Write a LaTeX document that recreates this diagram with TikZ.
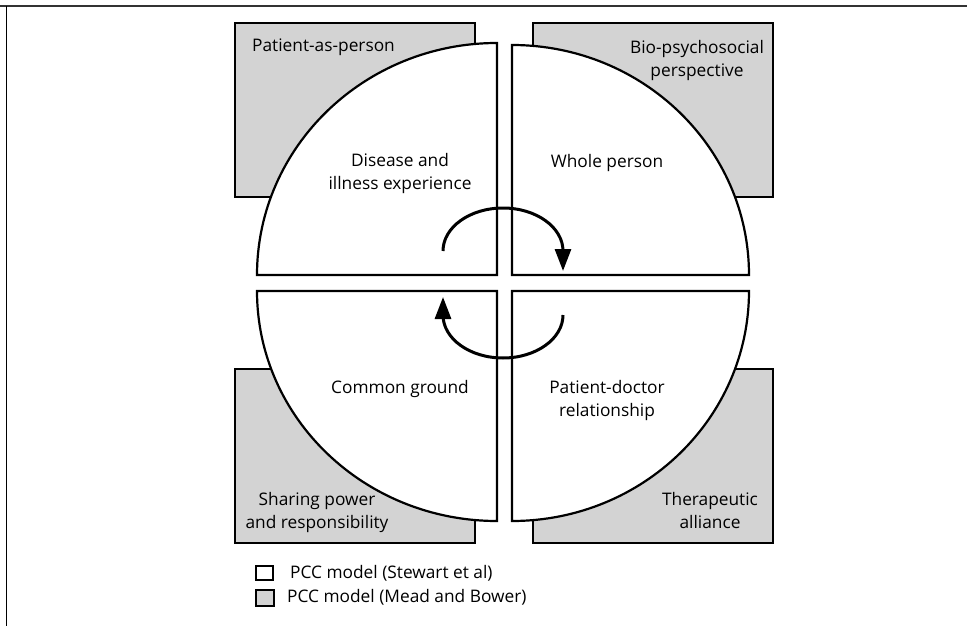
\documentclass[tikz,border=0pt]{standalone}
\usepackage{fontspec}
\setmainfont{Open Sans}
\usetikzlibrary{arrows.meta}
\definecolor{boxgray}{RGB}{211,211,211}
\begin{document}
\begin{tikzpicture}[x=1pt,y=-1pt,
  mbbox/.style={draw=black, line width=2.6pt, fill=boxgray},
  pccq/.style={draw=black, line width=2.2pt, fill=white, line join=miter},
  lbl/.style={font=\fontsize{17.3}{23}\selectfont, align=center, inner sep=0pt},
  legbox/.style={draw=black, line width=2pt},
  cyc/.style={line width=3pt, -{Triangle[length=22pt,width=16pt]}},
  frameline/.style={line width=1.6pt}]
\useasboundingbox (0,0) rectangle (967,626);
% frame
\draw[frameline, black!80] (0,6) -- (967,6);
\draw[frameline] (6.5,6) -- (6.5,626);
% Mead and Bower boxes
\draw[mbbox] (235,23) rectangle (475,197);
\draw[mbbox] (533,23) rectangle (773,197);
\draw[mbbox] (235,369) rectangle (475,543);
\draw[mbbox] (533,369) rectangle (773,543);
% Stewart quarters
\draw[pccq] (497,43) -- (497,275) -- (257,275)
  arc[start angle=180, end angle=270, x radius=240, y radius=232] -- cycle;
\draw[pccq] (749,275) -- (512,275) -- (512,45)
  arc[start angle=270, end angle=360, x radius=237, y radius=230] -- cycle;
\draw[pccq] (497,521) -- (497,291) -- (257,291)
  arc[start angle=180, end angle=90, x radius=240, y radius=230] -- cycle;
\draw[pccq] (749,291) -- (512,291) -- (512,521)
  arc[start angle=90, end angle=0, x radius=237, y radius=230] -- cycle;
% cycle arrows
\coordinate (ua) at (443,251);
\coordinate (ub) at (563,271);
\coordinate (la) at (563,315);
\coordinate (lb) at (443,297);
\draw[cyc] (ua) arc[start angle=180, end angle=360, x radius=60, y radius=43] -- (ub);
\draw[cyc] (la) arc[start angle=0, end angle=180, x radius=60, y radius=43] -- (lb);
% labels
\node[lbl, anchor=base west] (pap) at (252,52) {Patient-as-person};
\node[lbl] (bps) at (697,60.5) {Bio-psychosocial\\perspective};
\node[lbl] (die) at (400,173.3) {Disease and\\illness experience};
\node[lbl] (who) at (607,162.8) {Whole person};
\node[lbl] (cgr) at (400,389) {Common ground};
\node[lbl] (pdr) at (607,400.3) {Patient-doctor\\relationship};
\node[lbl] (spr) at (317,512.3) {Sharing power\\and responsibility};
\node[lbl] (tha) at (710,510.4) {Therapeutic\\alliance};
% legend
\draw[legbox, fill=white] (256,566) rectangle (273,580);
\draw[legbox, fill=boxgray] (256,590) rectangle (274,606);
\node[lbl, anchor=base west] (lg1) at (290,578) {PCC model (Stewart et al)};
\node[lbl, anchor=base west] (lg2) at (287,602) {PCC model (Mead and Bower)};
\end{tikzpicture}
\end{document}
